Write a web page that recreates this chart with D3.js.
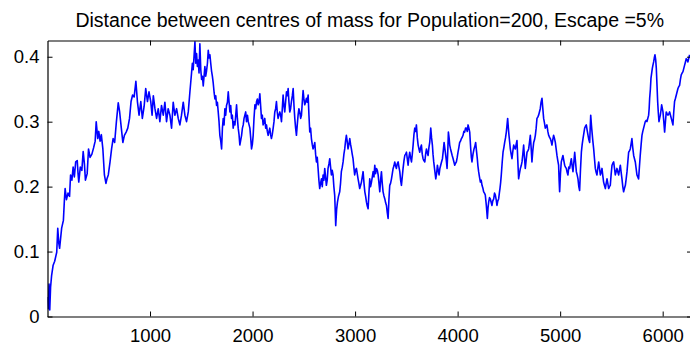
<!DOCTYPE html>
<html>
<head>
<meta charset="utf-8">
<script src="https://cdn.jsdelivr.net/npm/d3@7"></script>
<style>
  body { margin: 0; background: #fff; }
  svg { display: block; font-family: "Liberation Sans", Arial, sans-serif; }
</style>
</head>
<body>
<div id="chart"></div>
<script>
// values: [iteration, distance]
const titleText = "Distance between centres of mass for Population=200, Escape =5%";
const xTicks = [1000, 2000, 3000, 4000, 5000, 6000];
const yTicks = [0, 0.1, 0.2, 0.3, 0.4];
const yTickLabels = ["0", "0.1", "0.2", "0.3", "0.4"];

const samples = [
  [0,0.03],[8,0.012],[15,0.05],[22,0.01],[30,0.045],[40,0.063],[55,0.079],[70,0.085],[90,0.099],[100,0.136],
  [110,0.113],[118,0.105],[138,0.136],[155,0.148],[165,0.18],[172,0.197],[185,0.18],[200,0.19],[215,0.185],[225,0.218],
  [238,0.21],[250,0.23],[262,0.215],[275,0.238],[290,0.24],[298,0.22],[305,0.207],[320,0.23],[335,0.225],[348,0.254],
  [360,0.235],[370,0.21],[387,0.22],[400,0.258],[415,0.245],[433,0.25],[450,0.26],[465,0.27],[475,0.30],[490,0.274],
  [500,0.285],[513,0.27],[525,0.28],[540,0.258],[555,0.218],[570,0.205],[580,0.212],[593,0.218],[610,0.238],[625,0.258],
  [640,0.274],[655,0.268],[672,0.30],[690,0.329],[703,0.316],[720,0.29],[735,0.268],[750,0.279],[767,0.284],[783,0.29],
  [800,0.305],[815,0.331],[830,0.341],[845,0.338],[862,0.362],[877,0.331],[893,0.31],[910,0.331],[925,0.305],[942,0.323],
  [958,0.351],[975,0.331],[990,0.346],[1007,0.331],[1020,0.31],
  [1032,0.34],[1048,0.32],[1064,0.305],[1080,0.32],[1096,0.30],[1112,0.325],[1129,0.31],[1145,0.33],[1161,0.30],[1177,0.32],
  [1194,0.31],[1210,0.29],[1226,0.33],[1242,0.31],[1259,0.32],[1275,0.305],[1291,0.295],[1307,0.31],[1324,0.33],[1340,0.31],
  [1356,0.30],[1373,0.315],[1389,0.346],[1405,0.375],[1413,0.39],[1421,0.38],[1438,0.423],[1446,0.39],[1454,0.405],[1462,0.385],
  [1470,0.395],[1478,0.375],[1486,0.42],[1495,0.38],[1503,0.365],[1511,0.37],[1519,0.355],[1527,0.37],[1535,0.385],[1543,0.37],
  [1551,0.378],[1560,0.39],[1568,0.41],[1576,0.398],[1584,0.403],[1592,0.39],[1600,0.378],[1608,0.37],[1616,0.36],[1625,0.345],
  [1633,0.335],[1641,0.34],[1649,0.325],[1657,0.33],[1665,0.315],[1673,0.30],[1681,0.279],[1690,0.27],[1698,0.258],[1706,0.29],
  [1714,0.305],[1722,0.295],[1730,0.32],[1738,0.31],[1746,0.325],[1755,0.33],[1763,0.346],[1771,0.33],[1779,0.315],[1787,0.325],
  [1795,0.305],[1803,0.31],[1811,0.29],[1820,0.30],[1828,0.295],[1836,0.31],[1844,0.326],[1852,0.305],[1860,0.29],[1868,0.28],
  [1876,0.264],[1885,0.272],[1893,0.279],[1901,0.29],[1909,0.295],[1917,0.305],[1925,0.31],[1933,0.315],[1941,0.30],[1950,0.31],
  [1958,0.30],[1966,0.295],[1974,0.29],[1982,0.275],[1990,0.258],[1998,0.265],[2006,0.279],[2014,0.305],[2023,0.326],[2031,0.32],
  [2039,0.331],[2047,0.335],[2055,0.326],[2063,0.33],[2071,0.343],
  [2087,0.305],[2095,0.31],[2103,0.295],[2111,0.30],[2119,0.305],[2128,0.29],[2136,0.295],[2144,0.285],[2152,0.279],[2160,0.285],
  [2168,0.29],[2176,0.28],[2184,0.274],[2192,0.28],[2201,0.29],[2209,0.30],[2217,0.315],[2225,0.32],[2233,0.331],[2241,0.315],
  [2249,0.305],[2257,0.31],[2266,0.315],[2274,0.31],[2282,0.30],[2290,0.32],[2298,0.341],[2306,0.325],[2314,0.315],[2322,0.33],
  [2331,0.346],[2339,0.34],[2347,0.351],[2355,0.33],[2363,0.315],[2371,0.32],[2379,0.331],[2388,0.34],[2396,0.351],[2404,0.325],
  [2412,0.305],[2420,0.29],[2428,0.279],[2436,0.295],[2444,0.31],[2452,0.32],[2460,0.315],[2469,0.305],[2477,0.31],[2485,0.33],
  [2493,0.348],[2501,0.335],[2509,0.326],[2517,0.33],[2525,0.336],[2533,0.33],[2542,0.341],[2550,0.31],[2558,0.284],[2566,0.29],
  [2574,0.274],[2582,0.265],[2590,0.258],[2598,0.262],[2607,0.268],[2615,0.25],[2623,0.238],[2631,0.245],[2639,0.228],[2647,0.21],
  [2655,0.197],[2663,0.205],[2672,0.212],[2680,0.2],[2688,0.218],[2696,0.21],[2704,0.228],[2712,0.215],[2720,0.202],[2728,0.21],
  [2736,0.228],[2745,0.235],[2753,0.243],[2761,0.23],[2769,0.218],[2777,0.225],[2785,0.218],[2793,0.2],[2801,0.187],[2806,0.165],
  [2811,0.14],[2820,0.165],[2828,0.176],[2838,0.185],[2850,0.192],[2858,0.205],[2866,0.223],[2875,0.23],[2883,0.238],[2891,0.25],
  [2899,0.258],[2907,0.27],[2915,0.279],[2923,0.27],[2931,0.258],[2940,0.265],[2948,0.274],[2956,0.265],[2964,0.258],[2972,0.25],
  [2980,0.243],[2988,0.23],[2996,0.218],[3004,0.225],[3013,0.228],[3021,0.22],[3029,0.212],[3037,0.205],[3045,0.197],
  [3054,0.202],[3062,0.207],[3070,0.215],[3078,0.223],[3087,0.205],[3095,0.192],[3103,0.185],[3111,0.176],[3119,0.17],[3127,0.166],
  [3135,0.19],[3143,0.212],[3151,0.2],[3160,0.207],[3168,0.215],[3176,0.223],[3184,0.215],[3192,0.233],[3200,0.22],[3208,0.228],
  [3217,0.225],[3225,0.218],[3233,0.205],[3241,0.192],[3249,0.21],[3257,0.223],[3265,0.205],[3273,0.192],[3281,0.186],[3290,0.181],
  [3298,0.175],[3306,0.171],[3314,0.16],[3322,0.151],[3330,0.18],[3338,0.202],[3346,0.205],[3355,0.212],[3363,0.22],[3371,0.228],
  [3379,0.232],[3387,0.238],[3395,0.232],[3403,0.228],[3411,0.235],[3420,0.238],[3428,0.23],[3436,0.223],[3444,0.21],[3452,0.202],
  [3460,0.215],[3468,0.228],[3477,0.24],[3485,0.248],[3493,0.25],[3501,0.253],[3509,0.243],[3517,0.233],[3525,0.245],[3533,0.253],
  [3541,0.245],[3550,0.238],[3558,0.25],[3566,0.264],[3574,0.28],[3582,0.29],[3590,0.285],[3598,0.295],[3607,0.275],[3615,0.264],
  [3623,0.258],[3631,0.253],[3639,0.26],[3647,0.264],[3655,0.25],[3663,0.243],[3671,0.24],[3680,0.238],[3688,0.25],[3696,0.258],
  [3704,0.252],[3712,0.248],[3720,0.26],[3728,0.268],[3738,0.29],[3746,0.275],[3754,0.264],[3760,0.25],[3767,0.238],[3777,0.225],
  [3787,0.212],[3795,0.22],[3803,0.233],[3811,0.225],[3819,0.218],[3827,0.228],[3835,0.233],[3843,0.238],[3852,0.243],[3860,0.255],
  [3868,0.268],[3876,0.258],[3884,0.248],[3890,0.24],[3897,0.228],[3903,0.25],[3910,0.284],[3917,0.275],[3923,0.264],[3931,0.258],
  [3939,0.253],[3947,0.248],[3956,0.243],[3964,0.238],[3972,0.233],[3980,0.236],[3988,0.238],[3996,0.245],[4004,0.253],[4012,0.26],
  [4020,0.268],[4028,0.27],[4037,0.274],[4045,0.276],[4053,0.279],
  [4061,0.285],[4069,0.284],[4077,0.29],[4085,0.29],[4094,0.285],[4102,0.295],[4110,0.29],[4118,0.284],[4128,0.258],[4134,0.245],
  [4140,0.238],[4150,0.25],[4160,0.258],[4168,0.262],[4176,0.268],[4184,0.255],[4192,0.243],[4198,0.232],[4205,0.223],[4213,0.215],
  [4222,0.207],[4230,0.21],[4238,0.202],[4246,0.198],[4254,0.192],[4262,0.19],[4270,0.187],[4280,0.171],[4290,0.151],[4297,0.168],
  [4303,0.176],[4311,0.183],[4319,0.181],[4327,0.176],[4335,0.171],[4343,0.178],[4352,0.181],[4360,0.19],[4368,0.187],[4376,0.18],
  [4384,0.171],[4392,0.178],[4400,0.181],[4407,0.19],[4413,0.197],[4420,0.207],[4426,0.218],[4435,0.238],[4443,0.253],[4451,0.26],
  [4459,0.268],[4467,0.275],[4475,0.284],[4482,0.295],[4488,0.305],[4495,0.29],[4501,0.279],[4508,0.268],[4514,0.258],[4522,0.25],
  [4530,0.243],[4539,0.255],[4547,0.264],[4555,0.26],[4563,0.258],[4571,0.265],[4579,0.271],[4587,0.24],[4595,0.212],[4603,0.22],
  [4612,0.228],[4620,0.232],[4628,0.238],[4636,0.25],[4644,0.264],[4652,0.245],[4660,0.228],[4668,0.24],[4677,0.253],[4685,0.255],
  [4693,0.258],[4701,0.268],[4709,0.279],[4717,0.26],[4725,0.238],[4733,0.255],[4742,0.268],[4750,0.272],[4758,0.279],[4766,0.29],
  [4774,0.305],[4782,0.307],[4790,0.31],[4798,0.315],[4806,0.32],[4814,0.33],[4823,0.336],[4831,0.32],[4839,0.305],[4847,0.298],
  [4855,0.29],[4863,0.292],[4871,0.295],[4880,0.285],[4888,0.279],[4896,0.276],[4904,0.274],[4912,0.27],[4920,0.264],[4928,0.272],
  [4936,0.279],[4945,0.274],[4953,0.268],[4961,0.258],[4969,0.248],[4977,0.24],[4985,0.233],[4990,0.21],[4995,0.192],[5003,0.22],
  [5011,0.238],[5019,0.243],[5027,0.248],[5036,0.24],[5044,0.233],[5052,0.23],[5060,0.228],[5068,0.222],[5076,0.218],[5084,0.23],
  [5093,0.228],[5101,0.236],[5109,0.243],[5117,0.232],[5125,0.223],[5134,0.238],[5142,0.253],[5150,0.238],[5158,0.223],[5166,0.218],
  [5174,0.212],[5182,0.2],[5190,0.194],[5198,0.225],[5207,0.253],[5215,0.265],[5223,0.274],[5231,0.282],[5239,0.29],[5247,0.293],
  [5255,0.295],[5263,0.287],[5272,0.279],[5280,0.272],[5288,0.268],[5293,0.29],[5298,0.31],[5305,0.295],[5311,0.284],[5319,0.27],
  [5327,0.258],[5335,0.243],[5343,0.228],[5351,0.222],[5359,0.218],[5367,0.228],[5376,0.238],[5384,0.228],[5392,0.218],[5400,0.222],
  [5408,0.228],[5416,0.217],[5424,0.207],[5432,0.202],[5441,0.197],[5449,0.205],[5457,0.212],[5465,0.205],[5473,0.197],[5481,0.2],
  [5489,0.202],[5497,0.218],[5506,0.233],[5514,0.236],[5522,0.238],[5530,0.228],[5538,0.218],[5546,0.223],[5554,0.228],[5562,0.223],
  [5571,0.218],[5579,0.226],[5587,0.233],[5595,0.222],[5603,0.212],[5611,0.2],[5619,0.192],[5627,0.197],[5636,0.202],[5644,0.212],
  [5652,0.223],[5660,0.238],[5668,0.253],[5676,0.255],[5684,0.258],[5692,0.266],[5700,0.274],[5708,0.26],[5717,0.248],[5725,0.243],
  [5733,0.238],[5741,0.228],[5749,0.218],[5757,0.215],[5765,0.212],[5773,0.23],[5781,0.248],[5790,0.265],[5798,0.279],[5806,0.285],
  [5814,0.29],[5822,0.295],[5830,0.30],[5839,0.302],[5847,0.30],[5855,0.305],[5863,0.31],[5868,0.32],[5873,0.336],[5880,0.35],
  [5886,0.367],[5893,0.375],[5899,0.382],[5905,0.387],[5912,0.392],[5918,0.398],[5925,0.403],[5932,0.395],[5938,0.382],[5945,0.355],
  [5951,0.331],[5957,0.315],[5964,0.30],[5970,0.305],[5977,0.31],[5984,0.318],[5990,0.326],[5997,0.32],[6003,0.315],[6011,0.3],
  [6019,0.284],[6027,0.3],[6035,0.315],[6043,0.312],[6051,0.31],[6060,0.312],[6068,0.315],[6076,0.31],[6084,0.305],[6092,0.3],
  [6100,0.295],[6108,0.315],[6116,0.331],[6125,0.336],[6133,0.341],[6141,0.346],[6149,0.351],[6157,0.354],[6165,0.356],[6173,0.365],
  [6181,0.372],[6190,0.375],[6198,0.377],[6206,0.382],[6214,0.387],[6222,0.392],[6230,0.397],[6238,0.395],[6246,0.392],[6255,0.398],
  [6263,0.403]
];

const width = 690, height = 348;
const plotLeft = 47.5, plotRight = 692, plotTop = 40.5, plotBottom = 316.5;

let svg = d3.select("#chart").append("svg")
    .attr("width", width)
    .attr("height", height);

let x = d3.scaleLinear().domain([0, 6286]).range([plotLeft, plotRight]);
let y = d3.scaleLinear().domain([0, 0.425]).range([plotBottom, plotTop]);

// clip the trace to the axes box
svg.append("clipPath").attr("id", "box")
  .append("rect")
    .attr("x", plotLeft).attr("y", plotTop)
    .attr("width", plotRight - plotLeft).attr("height", plotBottom - plotTop);

let line = d3.line()
    .x(d => x(d[0]))
    .y(d => y(d[1]));

svg.append("path")
    .datum(samples)
    .attr("clip-path", "url(#box)")
    .attr("fill", "none")
    .attr("stroke", "#0000ff")
    .attr("stroke-width", 1.6)
    .attr("stroke-linejoin", "round")
    .attr("d", line);

// axes, ticks pointing inward like matlab
function styleAxis(g) {
  g.select(".domain").attr("stroke", "#000").attr("stroke-width", 1.2);
  g.selectAll(".tick line").attr("stroke", "#000").attr("stroke-width", 1);
  g.selectAll(".tick text")
    .attr("fill", "#000")
    .style("font-family", "'Liberation Sans', Arial, sans-serif")
    .style("font-size", "18.5px");
}

svg.append("g")
    .attr("transform", `translate(0,${plotBottom})`)
    .call(d3.axisBottom(x).tickValues(xTicks).tickFormat(d3.format("d"))
      .tickSizeInner(-5).tickSizeOuter(0).tickPadding(12))
    .call(styleAxis);

svg.append("g")
    .attr("transform", `translate(0,${plotTop})`)
    .call(d3.axisTop(x).tickValues(xTicks).tickFormat("")
      .tickSizeInner(-5).tickSizeOuter(0))
    .call(styleAxis);

svg.append("g")
    .attr("transform", `translate(${plotLeft},0)`)
    .call(d3.axisLeft(y).tickValues(yTicks).tickFormat((d, i) => yTickLabels[i])
      .tickSizeInner(-5).tickSizeOuter(0).tickPadding(8))
    .call(styleAxis);

svg.append("g")
    .attr("transform", `translate(${plotRight},0)`)
    .call(d3.axisRight(y).tickValues(yTicks).tickFormat("")
      .tickSizeInner(-5).tickSizeOuter(0))
    .call(styleAxis);

svg.append("text")
    .attr("x", (plotLeft + plotRight) / 2)
    .attr("y", 27)
    .attr("text-anchor", "middle")
    .style("font-size", "19.5px")
    .attr("fill", "#000")
    .text(titleText);
</script>
</body>
</html>
